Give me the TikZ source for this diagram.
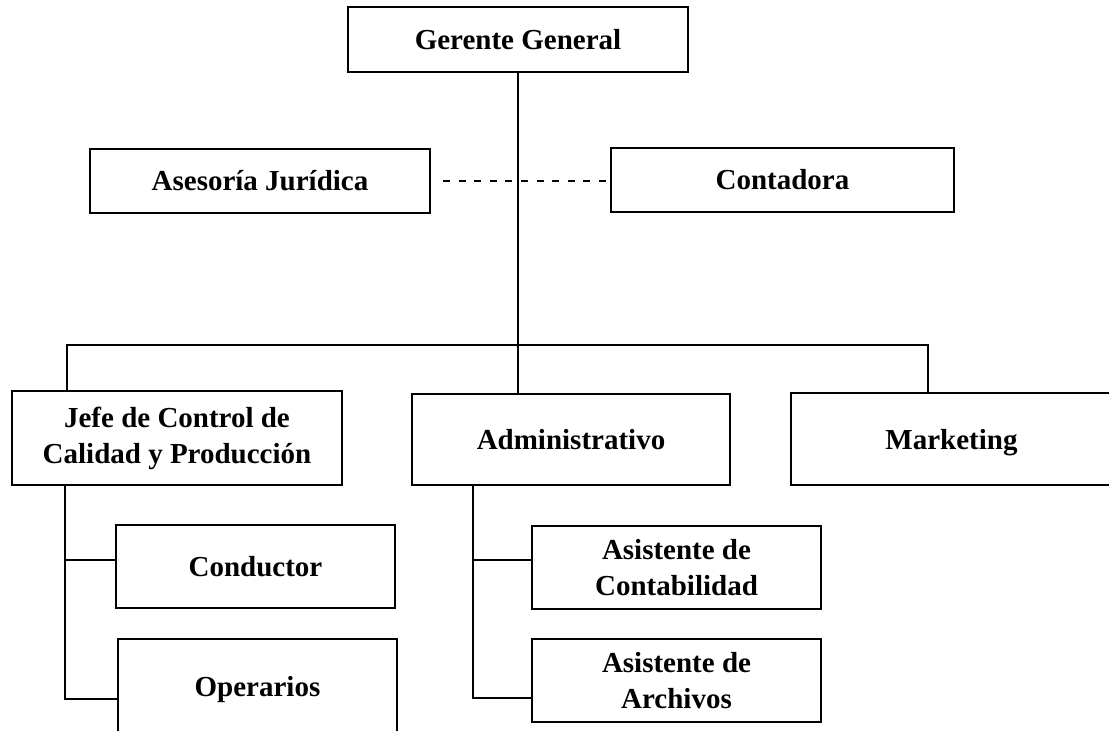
\documentclass[tikz,border=0pt]{standalone}
\usepackage{fontspec}
\setmainfont{Liberation Serif}
\tikzset{
  cargo/.style={draw, line width=1pt, align=center, inner sep=0pt,
    font=\bfseries\fontsize{14.5}{18}\selectfont},
  linea/.style={line width=0.6pt}
}
\begin{document}
\begin{tikzpicture}[x=0.5pt, y=-0.5pt]
\useasboundingbox (0,0) rectangle (1109,731);
% Gerencia y asesores
\node[cargo, minimum width=170pt, minimum height=32.5pt] (gerente) at (518,39.5) {Gerente General};
\node[cargo, minimum width=170pt, minimum height=32pt] (asesoria) at (260,181) {Asesoría Jurídica};
\node[cargo, minimum width=171.5pt, minimum height=32pt] (contadora) at (782.5,180) {Contadora};
% Areas
\node[cargo, minimum width=165pt, minimum height=47pt] (jefe) at (177,438) {Jefe de Control de\\Calidad y Producción};
\node[cargo, minimum width=159pt, minimum height=45.5pt] (admin) at (571,439.5) {Administrativo};
\node[cargo, minimum width=160.5pt, minimum height=46pt, text depth=0pt] (marketing) at (951.5,439) {Marketing};
% Personal
\node[cargo, minimum width=139.5pt, minimum height=41.5pt] (conductor) at (255.5,566.5) {Conductor};
\node[cargo, minimum width=139.5pt, minimum height=47pt, text depth=0pt] (operarios) at (257.5,686) {Operarios};
\node[cargo, minimum width=144.5pt, minimum height=41.5pt] (asisconta) at (676.5,568) {Asistente de\\Contabilidad};
\node[cargo, minimum width=144.5pt, minimum height=41.5pt] (asisarch) at (676.5,680.5) {Asistente de\\Archivos};
% Lineas de mando
\coordinate (busL) at (67,345);
\coordinate (busR) at (928,345);
\coordinate (ejeJ) at (65,0);
\coordinate (ejeA) at (473,0);
\draw[linea] (gerente.south) -- (gerente.south |- admin.north);
\draw[linea] (busL |- jefe.north) -- (busL) -- (busR) -- (busR |- marketing.north);
\draw[linea, dash pattern=on 3.5pt off 4.3pt, shorten <=6pt, shorten >=2pt] (asesoria.east) -- (contadora.west |- asesoria.east);
\draw[linea] ([yshift=3.25pt]conductor.west) -| (ejeJ |- jefe.south);
\draw[linea] ([yshift=-6.5pt]operarios.west) -| (ejeJ |- jefe.south);
\draw[linea] ([yshift=4pt]asisconta.west) -| (ejeA |- admin.south);
\draw[linea] ([yshift=-8.75pt]asisarch.west) -| (ejeA |- admin.south);
\end{tikzpicture}
\end{document}
